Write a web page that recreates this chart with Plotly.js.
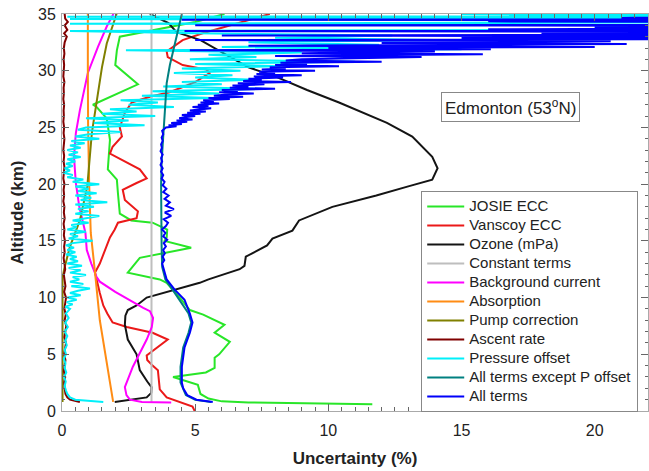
<!DOCTYPE html>
<html><head><meta charset="utf-8">
<script src="https://cdn.plot.ly/plotly-3.0.1.min.js"></script>
<style>html,body{margin:0;padding:0;background:#fff}#chart{width:649px;height:471px}</style>
</head><body><div id="chart"></div>
<script>
// ---- data (altitude in km, uncertainty in %) ----
var josieAlt = [0.6, 0.75, 0.85, 1.1, 1.5, 2.3, 3.0, 3.4, 3.8, 4.7, 5.0, 6.1, 6.9, 7.6, 8.5, 8.9, 10.0, 11.3, 11.6, 12.2, 13.5, 14.4, 15.0, 15.3, 16.0, 16.6, 16.8, 17.4, 19.2, 20.4, 21.3, 23.9, 25.8, 26.8, 27.0, 28.8, 30.5, 31.8, 33.0, 33.7, 34.3, 35.0];
var josieVal = [11.65, 7.0, 6.0, 5.5, 5.2, 5.1, 4.17, 5.4, 5.73, 5.73, 5.9, 6.3, 5.73, 6.1, 5.3, 4.8, 4.42, 3.93, 3.67, 2.47, 2.92, 4.85, 3.85, 3.93, 3.95, 3.4, 2.6, 2.17, 2.1, 2.06, 1.72, 1.8, 1.68, 1.3, 1.16, 2.85, 2.0, 2.06, 2.17, 3.67, 5.0, 6.1];

var vanscoyAlt = [0.0, 0.4, 1.2, 1.6, 1.9, 3.6, 4.0, 4.5, 4.9, 6.3, 6.9, 7.4, 7.8, 8.6, 9.3, 10.4, 12.2, 13.0, 14.5, 15.3, 16.0, 16.6, 17.0, 17.6, 18.6, 19.5, 20.1, 20.5, 21.3, 22.7, 23.3, 24.2, 25.0, 26.3, 27.2, 27.7, 28.1, 29.0, 29.8, 30.1, 30.5, 31.2, 31.7, 32.7, 33.3, 34.5, 35.0];
var vanscoyVal = [4.98, 4.9, 3.93, 3.8, 3.67, 3.6, 3.4, 3.2, 3.18, 3.97, 3.4, 2.43, 1.9, 1.7, 1.55, 1.42, 1.24, 1.42, 1.68, 1.8, 1.98, 2.1, 2.8, 2.85, 2.36, 2.28, 2.8, 3.18, 2.92, 1.8, 1.9, 2.25, 2.17, 2.36, 2.62, 3.3, 4.04, 5.0, 5.54, 5.43, 4.53, 3.97, 3.93, 4.53, 5.28, 7.04, 7.8];

var ozoneAlt = [0.8, 1.0, 1.2, 1.6, 2.1, 2.6, 3.6, 5.0, 6.3, 7.6, 8.4, 8.9, 9.3, 10.0, 10.7, 11.3, 11.6, 12.5, 12.8, 13.6, 14.6, 15.2, 15.9, 16.8, 18.0, 19.0, 19.8, 20.4, 21.4, 22.4, 24.2, 25.4, 27.2, 28.3, 29.5, 30.3, 32.7, 33.4, 34.2, 35.0];
var ozoneVal = [1.98, 2.6, 3.18, 3.35, 3.36, 3.2, 2.92, 2.8, 2.47, 2.36, 2.38, 2.47, 2.8, 3.18, 4.3, 5.17, 5.5, 6.67, 6.85, 6.9, 7.7, 7.9, 8.65, 8.9, 10.15, 11.8, 13.0, 13.9, 14.1, 13.9, 13.15, 12.2, 10.4, 9.2, 8.0, 7.0, 5.2, 4.3, 4.0, 3.3];

var constAlt = [0.8, 35.0];
var constVal = [3.36, 3.36];

var bgAlt = [0.75, 0.8, 1.0, 1.4, 2.1, 3.9, 6.3, 7.4, 8.2, 8.8, 9.1, 9.8, 10.5, 11.4, 11.8, 13.0, 14.2, 15.7, 18.0, 20.1, 22.4, 24.5, 26.5, 29.8, 32.1, 33.9, 34.9, 35.0];
var bgVal = [4.1, 3.0, 2.55, 2.42, 2.36, 2.66, 3.18, 3.37, 3.42, 3.3, 3.05, 2.55, 2.0, 1.42, 1.3, 1.1, 0.93, 0.88, 0.65, 0.52, 0.45, 0.52, 0.67, 0.97, 1.35, 1.68, 1.9, 1.93];

var absAlt = [0.8, 4.2, 8.0, 12.2, 15.7, 20.0, 25.0, 30.0, 35.0];
var absVal = [1.92, 1.68, 1.42, 1.24, 1.08, 1.02, 0.98, 0.97, 0.97];

var pumpAlt = [0.8, 11.7, 12.5, 13.6, 14.5, 16.8, 19.8, 24.5, 27.4, 30.3, 32.4, 35.0];
var pumpVal = [0.02, 0.02, 0.08, 0.19, 0.3, 0.67, 0.95, 1.12, 1.3, 1.5, 1.68, 2.05];

var ascAlt = [
  0.8, 0.9, 1.0, 1.2, 1.5, 2.0, 2.5, 3.0, 3.5, 4.0,
  4.5, 5.0, 5.5, 6.0, 6.5, 7.0, 7.5, 8.0, 8.5, 9.0,
  9.5, 10.0, 10.5, 11.0, 11.5, 12.0, 12.5, 13.0, 13.5, 14.0,
  14.5, 15.0, 15.5, 16.0, 16.5, 17.0, 17.5, 18.0, 18.5, 19.0,
  19.5, 20.0, 20.5, 21.0, 21.5, 22.0, 22.5, 23.0, 23.5, 24.0,
  24.5, 25.0, 25.5, 26.0, 26.5, 27.0, 27.5, 28.0, 28.5, 29.0,
  29.5, 30.0, 30.5, 31.0, 31.5, 32.0, 32.5, 33.0, 33.3, 33.6,
  34.0, 34.3, 34.6, 35.0];
var ascVal = [
  0.67, 0.45, 0.3, 0.2, 0.13, 0.1, 0.08, 0.12, 0.07, 0.1,
  0.13, 0.08, 0.11, 0.15, 0.09, 0.12, 0.16, 0.1, 0.14, 0.09,
  0.12, 0.15, 0.08, 0.13, 0.1, 0.07, 0.12, 0.09, 0.06, 0.1,
  0.08, 0.11, 0.07, 0.09, 0.06, 0.1, 0.07, 0.09, 0.05, 0.08,
  0.06, 0.09, 0.05, 0.07, 0.09, 0.06, 0.08, 0.05, 0.07, 0.09,
  0.06, 0.08, 0.05, 0.07, 0.06, 0.08, 0.05, 0.07, 0.06, 0.09,
  0.05, 0.07, 0.08, 0.06, 0.09, 0.07, 0.1, 0.18, 0.08, 0.2,
  0.1, 0.22, 0.12, 0.1];

var pressAlt = [
  0.8, 0.9, 1.0, 1.2, 1.5, 1.8, 2.2, 2.6, 3.0, 3.4,
  3.8, 4.2, 4.6, 5.0, 5.4, 5.8, 6.2, 6.6, 7.0, 7.4,
  7.8, 8.2, 8.6,
  9.0, 9.2, 9.4, 9.6, 9.8, 10.0, 10.2, 10.4, 10.6, 10.8,
  11.0, 11.2, 11.4, 11.6, 11.8, 12.0, 12.2, 12.4, 12.6, 12.8,
  13.0, 13.2, 13.4, 13.6, 13.8, 14.0, 14.2, 14.4, 14.6, 14.8,
  15.0, 15.2, 15.4, 15.6, 15.8, 16.0, 16.2, 16.4, 16.6, 16.8,
  17.0, 17.2, 17.4, 17.6, 17.8, 18.0, 18.2, 18.4, 18.6, 18.8,
  19.0, 19.2, 19.4, 19.6, 19.8, 20.0, 20.2, 20.4, 20.6, 20.8,
  21.0, 21.2, 21.4, 21.6, 21.8, 22.0, 22.2, 22.4, 22.6, 22.8,
  23.0, 23.2, 23.4, 23.6, 23.8, 24.0, 24.2, 24.4, 24.6, 24.8,
  25.0, 25.2, 25.4,
  25.6, 25.8, 26.0, 26.2, 26.4, 26.6, 26.8, 27.0, 27.2, 27.4,
  27.6, 27.8, 28.0, 28.2, 28.4, 28.6, 28.8, 29.0, 29.2, 29.4,
  29.6, 29.8, 30.0, 30.2, 30.4, 30.6, 30.8, 31.0, 31.2, 31.4,
  31.6, 31.8, 31.9, 32.1, 32.3, 32.5, 32.7, 32.9, 33.1, 33.3,
  33.5, 33.65, 33.8, 34.0, 34.15, 34.3, 34.45, 34.55, 34.65, 34.75,
  34.85, 35.0];
var pressVal = [
  1.55, 0.9, 0.5, 0.3, 0.2, 0.15, 0.1, 0.14, 0.08, 0.16,
  0.1, 0.13, 0.07, 0.15, 0.1, 0.18, 0.12, 0.2, 0.1, 0.22,
  0.12, 0.25, 0.15,
  0.3, 0.12, 0.4, 0.18, 0.55, 0.2, 0.7, 0.3, 0.6, 1.05,
  0.35, 0.8, 0.3, 0.65, 0.4, 0.9, 0.3, 0.7, 0.25, 0.75,
  0.2, 0.6, 0.3, 0.55, 0.15, 0.5, 0.2, 0.45, 0.15, 0.4,
  1.15, 0.25, 0.6, 0.3, 0.9, 0.2, 0.55, 0.35, 1.0, 0.4,
  0.9, 1.4, 0.5, 1.0, 0.6, 1.2, 0.5, 1.7, 0.7, 1.1,
  0.5, 1.3, 0.6, 1.0, 0.5, 1.4, 0.4, 0.8, 0.2, 0.4,
  0.05, 0.3, 0.1, 0.4, 0.15, 0.5, 0.2, 0.7, 0.25, 0.6,
  0.2, 0.7, 0.3, 0.85, 0.35, 1.4, 0.5, 1.0, 2.2, 0.6,
  0.9, 3.1, 1.2,
  2.5, 0.9, 3.5, 1.5, 2.8, 1.8, 4.2, 2.5, 3.6, 2.2,
  5.7, 3.0, 5.9, 3.4, 7.5, 3.8, 6.0, 4.5, 7.2, 5.0,
  6.4, 4.2, 6.7, 4.5, 8.2, 5.0, 11.0, 4.8, 7.3, 5.5,
  9.0, 2.4, 15, 6, 11.9, 7, 14, 8, 12.4, 5,
  0.3, 30, 20, 25, 0.3, 30, 18, 0.3, 30, 0.2,
  30, 15];

var tealAlt = [0.8, 1.0, 1.4, 2.5, 3.9, 5.6, 6.9, 7.8, 8.6, 9.5, 10.7, 11.6, 12.7, 14.5, 17.0, 20.0, 22.0, 24.5, 26.5, 28.9, 30.5, 31.8, 33.5, 35.0];
var tealVal = [5.6, 5.0, 4.65, 4.45, 4.45, 4.55, 4.75, 4.85, 4.75, 4.5, 4.15, 3.88, 3.76, 3.74, 3.72, 3.72, 3.74, 3.8, 3.85, 3.93, 4.05, 4.17, 4.35, 4.5];

var allAlt = [
  0.8, 1.0, 1.4, 2.0, 2.5, 3.9, 5.6, 6.9, 7.8, 8.6,
  9.8, 10.7, 11.6, 12.2, 12.7, 13.0, 13.3, 13.6, 13.9, 14.2,
  14.5, 14.8, 15.1, 15.4, 15.7, 16.0, 16.3, 16.6, 16.9, 17.2,
  17.5, 17.8, 18.1, 18.4, 18.7, 19.0, 19.3, 19.6, 19.9, 20.2,
  20.5, 20.8, 21.1, 21.4, 21.7, 22.0, 22.3, 22.6, 22.9, 23.2,
  23.5, 23.8, 24.1, 24.4, 24.7,
  25.0, 25.1, 25.2, 25.3, 25.4, 25.5, 25.6, 25.7, 25.8, 25.9,
  26.0, 26.1, 26.2, 26.3, 26.4, 26.5, 26.6, 26.7, 26.8, 26.9,
  27.0, 27.1, 27.2, 27.3, 27.4, 27.5, 27.6, 27.7, 27.8, 27.9,
  28.0, 28.1, 28.2, 28.3, 28.4, 28.5, 28.6, 28.7, 28.8, 28.9,
  29.0, 29.1, 29.2, 29.3, 29.4, 29.5, 29.6, 29.7, 29.8, 29.9,
  30.0, 30.1, 30.2, 30.3, 30.4, 30.5, 30.6, 30.7, 30.8, 30.9,
  31.0, 31.2, 31.3, 31.45, 31.55,
  31.7, 31.8, 31.9, 32.0, 32.1, 32.2, 32.35, 32.45, 32.6, 32.7,
  32.8, 32.9, 33.0, 33.1, 33.2, 33.3, 33.4, 33.5, 33.55, 33.65,
  33.75, 33.85, 33.95, 34.0, 34.05, 34.15, 34.25, 34.35, 34.45, 34.5,
  34.55, 34.65, 34.75, 34.85, 34.95, 35.0];
var allVal = [
  5.66, 5.05, 4.7, 4.55, 4.5, 4.5, 4.6, 4.8, 4.9, 4.8,
  4.6, 4.23, 3.93, 3.85, 3.8, 3.76, 3.84, 3.78, 3.86, 3.8,
  3.9, 3.82, 3.95, 3.8, 3.88, 3.76, 3.9, 3.98, 3.82, 4.1,
  3.86, 4.2, 3.9, 4.05, 3.85, 4.0, 3.8, 3.92, 3.78, 3.85,
  3.74, 3.8, 3.72, 3.78, 3.7, 3.76, 3.72, 3.78, 3.7, 3.75,
  3.72, 3.78, 3.74, 3.8, 3.76,
  3.9, 4.3, 4.0, 4.5, 4.1, 4.7, 4.3, 4.9, 4.4, 4.6,
  5.0, 4.5, 5.2, 4.7, 5.4, 4.8, 5.1, 5.6, 4.9, 5.5,
  5.1, 5.9, 5.2, 5.7, 5.3, 6.3, 5.5, 6.8, 5.7, 6.2,
  7.2, 5.9, 6.6, 6.0, 8.0, 6.3, 7.0, 6.4, 7.6, 6.6,
  8.6, 6.8, 7.5, 7.0, 8.3, 7.2, 9.0, 7.3, 8.0, 7.4,
  9.5, 7.5, 8.4, 7.8, 10.4, 8.0, 9.2, 8.2, 12.0, 8.4,
  9.0, 13.5, 8.0, 15.8, 9.0,
  14.0, 4.8, 16.1, 10.0, 20.0, 7.0, 21.2, 12.0, 20.6, 5.0,
  30, 15, 30, 6, 30, 18, 30, 4.6, 30, 16,
  30, 20, 30, 5, 30, 22, 30, 16, 30, 4.5,
  30, 21, 30, 25, 30, 30];

var FONT = 'Liberation Sans, Arial, Helvetica, sans-serif';
function tr(name, x, y, color, width) {
  return {type: 'scatter', mode: 'lines', x: x, y: y,
    name: '<span style="font-size:15px">' + name + '</span>',
    line: {color: color, width: width || 2}, hoverinfo: 'skip'};
}
var data = [
  tr('JOSIE ECC', josieVal, josieAlt, 'rgb(40,230,40)'),
  tr('Vanscoy ECC', vanscoyVal, vanscoyAlt, 'rgb(235,25,25)'),
  tr('Ozone (mPa)', ozoneVal, ozoneAlt, 'rgb(20,20,20)'),
  tr('Constant terms', constVal, constAlt, 'rgb(190,190,190)'),
  tr('Background current', bgVal, bgAlt, 'rgb(255,0,255)'),
  tr('Absorption', absVal, absAlt, 'rgb(255,140,20)'),
  tr('Pump correction', pumpVal, pumpAlt, 'rgb(128,128,0)'),
  tr('Ascent rate', ascVal, ascAlt, 'rgb(128,0,0)'),
  tr('Pressure offset', pressVal, pressAlt, 'rgb(0,240,250)'),
  tr('All terms except P offset', tealVal, tealAlt, 'rgb(0,128,128)'),
  tr('All terms', allVal, allAlt, 'rgb(0,0,250)')
];
var layout = {
  width: 649, height: 471,
  margin: {l: 62, r: 1, t: 14, b: 60},
  paper_bgcolor: 'white', plot_bgcolor: 'white',
  font: {family: FONT, size: 16, color: '#222'},
  showlegend: true,
  legend: {x: 0.613, y: 0.554, xanchor: 'left', yanchor: 'top',
    bgcolor: 'white', bordercolor: '#888', borderwidth: 1, itemwidth: 37,
    font: {family: FONT, size: 12, color: '#222'}, tracegroupgap: 0},
  xaxis: {range: [0, 22], dtick: 5, tick0: 0, ticks: 'inside', ticklen: 7, tickcolor: '#666',
    minor: {dtick: 0.5, ticks: 'inside', ticklen: 4, tickcolor: '#666'},
    showline: true, linecolor: '#aaa', linewidth: 1, mirror: 'ticks',
    showgrid: false, zeroline: false, automargin: false,
    tickfont: {size: 16}, ticklabelstandoff: 5,
    title: {text: 'Uncertainty (%)', font: {size: 17, weight: 'bold'}, standoff: 13}},
  yaxis: {range: [0, 35], dtick: 5, tick0: 0, ticks: 'inside', ticklen: 7, tickcolor: '#666',
    minor: {dtick: 1, ticks: 'inside', ticklen: 3, tickcolor: '#666'},
    showline: true, linecolor: '#aaa', linewidth: 1, mirror: 'ticks',
    showgrid: false, zeroline: false, automargin: false,
    tickfont: {size: 16}, ticklabelstandoff: 2,
    title: {text: 'Altitude (km)', font: {size: 17, weight: 'bold'}, standoff: 10}},
  annotations: [{x: 16.85, y: 26.8, xref: 'x', yref: 'y', showarrow: false,
    text: 'Edmonton (53<sup>o</sup>N)', font: {size: 17, color: '#222'},
    bordercolor: '#888', borderwidth: 1, borderpad: 3, bgcolor: 'white'}]
};
Plotly.newPlot('chart', data, layout, {staticPlot: true, displayModeBar: false});
</script></body></html>
